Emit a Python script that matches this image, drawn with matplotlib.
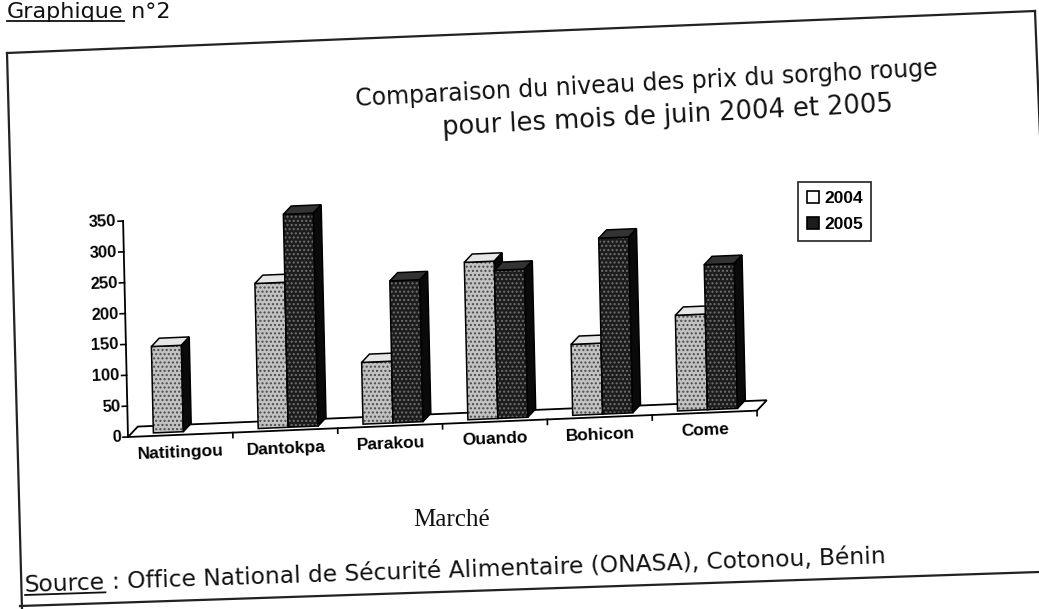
import numpy as np
import matplotlib
matplotlib.use('Agg')
from matplotlib import pyplot as plt
from matplotlib.patches import Polygon, Patch
from matplotlib.transforms import Affine2D

marches = ['Natitingou', 'Dantokpa', 'Parakou', 'Ouando', 'Bohicon', 'Come']
annees = ['2004', '2005']
prix_2004 = [140, 235, 100, 255, 115, 155]
prix_2005 = [None, 345, 230, 240, 285, 235]
yticks = [0, 50, 100, 150, 200, 250, 300, 350]

titre = ['Comparaison du niveau des prix du sorgho rouge',
         'pour les mois de juin 2004 et 2005']
source = 'Office National de Sécurité Alimentaire (ONASA), Cotonou, Bénin'

W, H = 1039, 609
fig = plt.figure(figsize=(W/100, H/100), dpi=100)
fig.patch.set_facecolor('white')

# page in pixel coords (row 0 at the top)
page = fig.add_axes([0, 0, 1, 1])
page.set_xlim(0, W); page.set_ylim(H, 0); page.axis('off')

# chart area: x 0..6 -> px 128..757, y 0..350 -> row 437..221
x0px, x1px, y0row, y1row = 128, 757, 437, 221
ymax = 350
ax = fig.add_axes([x0px/W, (H-y0row)/H, (x1px-x0px)/W, (y0row-y1row)/H])
ax.set_xlim(0, len(marches)); ax.set_ylim(0, ymax); ax.axis('off')
ax.patch.set_alpha(0)

# the scan is a little skewed
a = np.tan(np.radians(1.3)); b = np.tan(np.radians(2.4))
px, py = x0px, H - y0row
skew = (Affine2D().translate(-px, -py)
        + Affine2D(np.array([[1, -a, 0], [b, 1, 0], [0, 0, 1]]))
        + Affine2D().translate(px, py))
tr = ax.transData + skew
rot = 2.4

ux = len(marches) / (x1px - x0px)   # data units per pixel
uy = ymax / (y0row - y1row)

def poly(pts, **kw):
    ax.add_patch(Polygon(pts, closed=True, transform=tr, clip_on=False, **kw))

def face(pts, fc, hatch_col=None):
    poly(pts, facecolor=fc, edgecolor='none', lw=0)
    if hatch_col:
        poly(pts, fill=False, hatch='....', edgecolor=hatch_col, lw=0)
    poly(pts, fill=False, edgecolor='black', lw=1.1)

# floor
n = len(marches)
fd = 10
poly([(0, 0), (n, 0), (n + fd*ux, fd*uy), (fd*ux, fd*uy)],
     facecolor='white', edgecolor='black', lw=1.3)
for k in range(1, n + 1):
    ax.plot([k, k], [0, -5*uy], color='black', lw=1.2, transform=tr, clip_on=False)

# y axis
ax.plot([0, 0], [0, ymax], color='black', lw=1.3, transform=tr, clip_on=False)
for v in yticks:
    ax.plot([-5*ux, 0], [v, v], color='black', lw=1.2, transform=tr, clip_on=False)
    ax.text(-7*ux, v, str(v), ha='right', va='center', transform=tr, rotation=rot,
            rotation_mode='anchor', fontsize=12, fontweight='bold', family='Liberation Sans')

for i, m in enumerate(marches):
    ax.text(i + 0.5, -18*uy, m, ha='center', va='center', transform=tr, rotation=rot,
            rotation_mode='anchor', fontsize=12.5, fontweight='bold', family='Liberation Sans')

# 3d bars
bw = 0.286
dep = 8
bo = 3
styles = [('#c2c2c2', '#4a4a4a', '#e6e6e6'), ('#1c1c1c', '#707070', '#333333')]
for s, vals in enumerate([prix_2004, prix_2005]):
    fc, hc, topc = styles[s]
    for i, v in enumerate(vals):
        if v is None:
            continue
        xl = i + 0.5 - bw + s*bw + bo*ux
        xr = xl + bw
        yb = bo*uy
        yt = v + bo*uy
        dx, dy = dep*ux, dep*uy
        face([(xl, yb), (xr, yb), (xr, yt), (xl, yt)], fc, hc)
        face([(xl, yt), (xr, yt), (xr + dx, yt + dy), (xl + dx, yt + dy)], topc)
        face([(xr, yb), (xr + dx, yb + dy), (xr + dx, yt + dy), (xr, yt)], '#0a0a0a')

# legend
handles = [Patch(facecolor='white', edgecolor='black', lw=1.2),
           Patch(facecolor='#1c1c1c', edgecolor='black', lw=1.2)]
leg = fig.legend(handles, annees, loc='upper left',
                 bbox_to_anchor=(798/W, 1 - 182/H), frameon=True, fancybox=False,
                 handlelength=0.7, handleheight=0.7, handletextpad=0.3,
                 borderpad=0.5, labelspacing=0.65, borderaxespad=0,
                 prop={'family': 'Liberation Sans', 'weight': 'bold', 'size': 12.5})
leg.get_frame().set_edgecolor('black')
leg.get_frame().set_linewidth(1.3)

# titles
page.text(646, 84, titre[0], ha='center', va='center', rotation=3,
          rotation_mode='anchor', fontsize=17, family='DejaVu Sans', color='#111111')
page.text(668, 116, titre[1], ha='center', va='center', rotation=3,
          rotation_mode='anchor', fontsize=18.5, family='DejaVu Sans', color='#111111')
page.text(452, 520, 'Marché', ha='center', va='center', fontsize=18,
          family='Liberation Serif', color='#111111')

renderer = fig.canvas.get_renderer()

def underlined(x, y, first, rest, r, size):
    tmp = page.text(0, 0, first, fontsize=size, family='DejaVu Sans')
    w = tmp.get_window_extent(renderer).width
    tmp.remove()
    c, sn = np.cos(np.radians(r)), np.sin(np.radians(r))
    page.text(x, y, first, rotation=r, rotation_mode='anchor', ha='left',
              va='baseline', fontsize=size, family='DejaVu Sans', color='#111111')
    page.plot([x + 3*sn, x + 3*sn + c*w], [y + 3*c, y + 3*c - sn*w], color='#111111', lw=1.3)
    page.text(x + c*w, y - sn*w, rest, rotation=r, rotation_mode='anchor', ha='left',
              va='baseline', fontsize=size, family='DejaVu Sans', color='#111111')

underlined(7, 18, 'Graphique', ' n°2', 0, 16)
underlined(25, 592, 'Source', ' : ' + source, 1.9, 16.8)

# page frame
frame = [((7, 1035), (53, 11)), ((7, 22), (53, 609)), ((20, 1039), (606, 572)),
         ((1035, 1041), (11, 160))]
for xs, ys in frame:
    page.plot(xs, ys, color='#222222', lw=1.6)

fig.savefig('out.png', dpi=100)
